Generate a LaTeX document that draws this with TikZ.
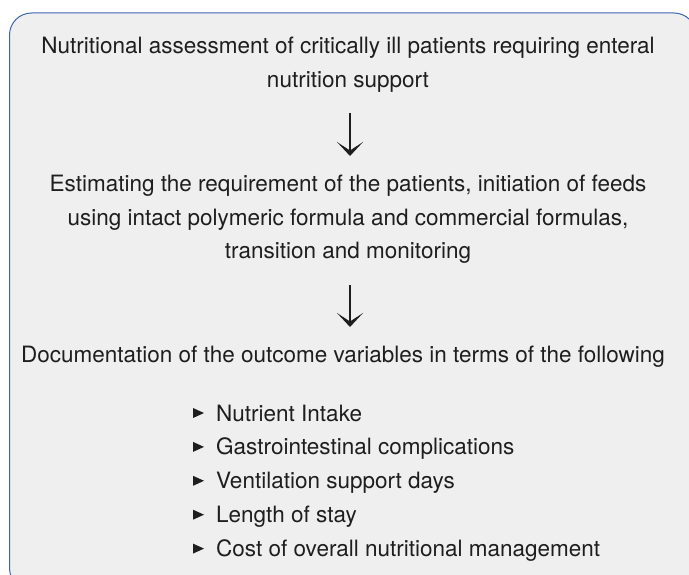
\documentclass[tikz,border=0pt]{standalone}
\usepackage{fontspec}
\setmainfont{TeX Gyre Heros}
\usepackage{xcolor}
\usetikzlibrary{arrows.meta,positioning}

\definecolor{panelfill}{HTML}{EFEFEF}
\definecolor{panelline}{HTML}{3E64B4}
\definecolor{inktext}{HTML}{1E1E1E}

\begin{document}
\begin{tikzpicture}[
    x=1pt, y=-1pt,
    txt/.style={align=center, anchor=north, inner sep=0pt, text=inktext, font=\fontsize{22.5}{33.5}\selectfont},
    item/.style={inner sep=0pt, text=inktext, text height=16.5pt, text depth=5pt, minimum height=33.5pt, font=\fontsize{22.5}{33.5}\selectfont},
    arrow/.style={-{Stealth[length=14pt, width=26pt, inset=8.5pt]}, line width=1.8pt, inktext}
]
\useasboundingbox (0,0) rectangle (689,575);
\clip (0,0) rectangle (689,575);

% Panel
\draw[panelline, fill=panelfill, line width=1pt, rounded corners=22pt] (9.5,13) rectangle (696,590);

% Steps
\node[txt] (assess) at (348,37) {Nutritional assessment of critically ill patients requiring enteral\\nutrition support};
\node[txt] (estimate) at (348,175) {Estimating the requirement of the patients, initiation of feeds\\using intact polymeric formula and commercial formulas,\\transition and monitoring};
\node[txt] (document) at (343,346) {Documentation of the outcome variables in terms of the following};

% Outcome variables
\node[item, anchor=base west] (intake) at (216,421) {Nutrient Intake};
\node[item, below=0pt of intake.south west, anchor=north west] (gastro) {Gastrointestinal complications};
\node[item, below=0pt of gastro.south west, anchor=north west] (ventil) {Ventilation support days};
\node[item, below=0pt of ventil.south west, anchor=north west] (stay) {Length of stay};
\node[item, below=0pt of stay.south west, anchor=north west] (cost) {Cost of overall nutritional management};

% Bullets
\fill[inktext] ([xshift=-23pt, yshift=7.25pt]intake.west) -- ++(0,10) -- ++(11,-5) -- cycle;
\fill[inktext] ([xshift=-23pt, yshift=7.25pt]gastro.west) -- ++(0,10) -- ++(11,-5) -- cycle;
\fill[inktext] ([xshift=-23pt, yshift=7.25pt]ventil.west) -- ++(0,10) -- ++(11,-5) -- cycle;
\fill[inktext] ([xshift=-23pt, yshift=7.25pt]stay.west) -- ++(0,10) -- ++(11,-5) -- cycle;
\fill[inktext] ([xshift=-23pt, yshift=7.25pt]cost.west) -- ++(0,10) -- ++(11,-5) -- cycle;

% Arrows
\draw[arrow] ([xshift=2pt, yshift=-21pt]assess.south) -- ([xshift=2pt, yshift=19pt]estimate.north);
\draw[arrow] ([xshift=2pt, yshift=-21pt]estimate.south) -- ([xshift=7pt, yshift=19pt]document.north);

\end{tikzpicture}
\end{document}
